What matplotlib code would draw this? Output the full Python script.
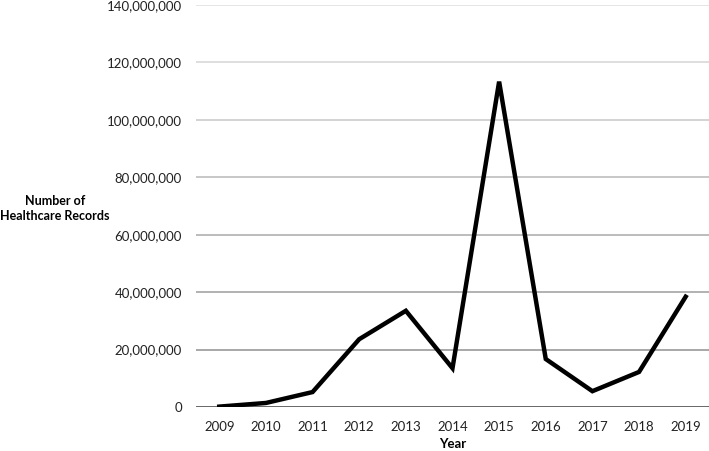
import matplotlib
matplotlib.use("Agg")
import matplotlib.pyplot as plt
from matplotlib.ticker import FuncFormatter

years = ["2009", "2010", "2011", "2012", "2013", "2014", "2015", "2016", "2017", "2018", "2019"]
records = [130000, 1400000, 5200000, 23600000, 33500000, 13500000, 113300000,
           16700000, 5500000, 12200000, 38400000]
yticks = [0, 20000000, 40000000, 60000000, 80000000, 100000000, 120000000, 140000000]
grid_colors = ["#5a5a5a", "#9a9a9a", "#a4a4a4", "#b0b0b0", "#bdbdbd", "#cccccc", "#d8d8d8", "#e0e0e0"]

plt.rcParams['font.family'] = ['Lato', 'DejaVu Sans']

fig = plt.figure(figsize=(7.09, 4.51), dpi=100)
ax = fig.add_axes([0.2764, 0.0976, 0.7236, 0.8914])

for v, c in zip(yticks, grid_colors):
    ax.axhline(v, color=c, lw=2.0 if v == 0 else 1.2, zorder=1)

x = list(range(len(years)))
ax.plot(x, records, color="black", lw=3.2, solid_joinstyle="miter", zorder=3)

ax.set_xlim(-0.5, len(years) - 0.5)
ax.set_ylim(0, 140000000)
ax.set_xticks(x)
ax.set_xticklabels(years)
ax.set_yticks(yticks)
ax.yaxis.set_major_formatter(FuncFormatter(lambda v, p: f"{int(v):,}"))
ax.tick_params(axis="both", length=0, labelsize=9.5, colors="#222222")
ax.tick_params(axis="y", pad=10)
ax.tick_params(axis="x", pad=10)
for s in ax.spines.values():
    s.set_visible(False)

ax.set_xlabel("Year", fontsize=9.5, fontweight="bold", labelpad=4)
fig.text(55 / 709, 1 - 209 / 451, "Number of\nHealthcare Records", ha="center", va="center",
         fontsize=9, fontweight="bold", linespacing=1.3)

fig.savefig("out.png", dpi=100)
